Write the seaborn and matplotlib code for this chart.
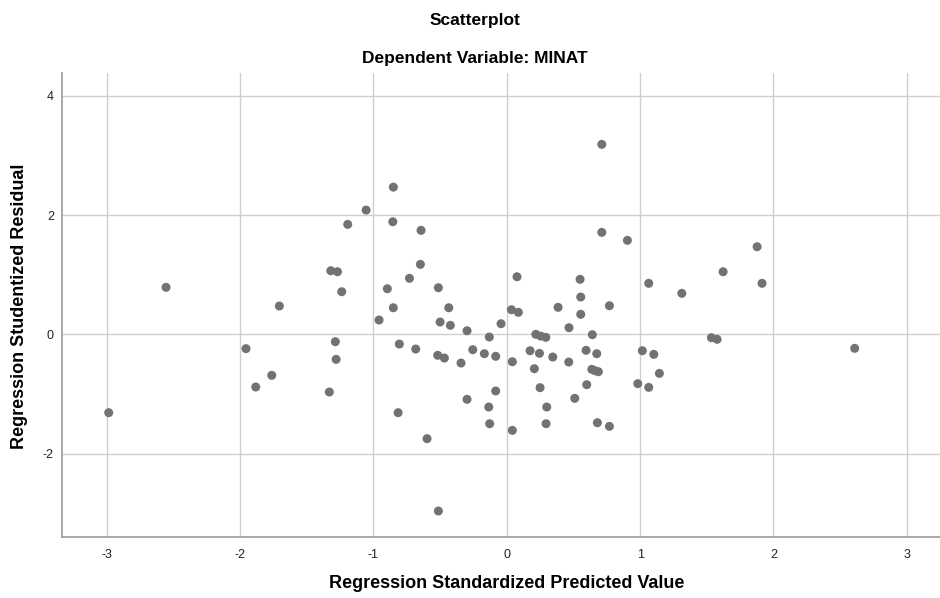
import numpy as np
import pandas as pd
import matplotlib
matplotlib.use("Agg")
import matplotlib.pyplot as plt
import seaborn as sns

# valeurs (prédites standardisées / résidus studentisés)
pred_std = [
    -2.986, -2.556, -1.956, -1.883, -1.763, -1.706, -1.331, -1.320, -1.286, -1.280,
    -1.270, -1.238, -1.193, -1.055, -0.958, -0.896, -0.855, -0.851, -0.851, -0.815,
    -0.806, -0.730, -0.683, -0.648, -0.643, -0.598, -0.518, -0.513, -0.513, -0.500,
    -0.468, -0.435, -0.423, -0.343, -0.298, -0.298, -0.255, -0.168, -0.135, -0.131,
    -0.128, -0.083, -0.083, -0.043, 0.035, 0.042, 0.042, 0.077, 0.087, 0.175,
    0.207, 0.218, 0.245, 0.250, 0.255, 0.293, 0.295, 0.300, 0.345, 0.385,
    0.465, 0.467, 0.510, 0.550, 0.555, 0.555, 0.595, 0.600, 0.638, 0.642,
    0.662, 0.675, 0.680, 0.687, 0.713, 0.713, 0.770, 0.770, 0.905, 0.983,
    1.017, 1.065, 1.065, 1.103, 1.145, 1.313, 1.535, 1.578, 1.623, 1.878,
    1.915, 2.610,
]
resid_stud = [
    -1.315, 0.789, -0.240, -0.884, -0.688, 0.475, -0.968, 1.067, -0.124, -0.420,
    1.050, 0.715, 1.845, 2.085, 0.240, 0.765, 1.889, 2.470, 0.446, -1.315,
    -0.163, 0.940, -0.247, 1.174, 1.745, -1.751, -0.352, 0.782, -2.965, 0.206,
    -0.398, 0.446, 0.151, -0.482, 0.060, -1.091, -0.258, -0.325, -1.220, -0.045,
    -1.500, -0.369, -0.951, 0.178, 0.413, -0.460, -1.611, 0.966, 0.369, -0.275,
    -0.577, 0.000, -0.319, -0.895, -0.030, -0.050, -1.500, -1.220, -0.381, 0.453,
    -0.465, 0.111, -1.074, 0.923, 0.626, 0.336, -0.268, -0.845, -0.587, -0.006,
    -0.611, -0.325, -1.483, -0.627, 1.711, 3.188, 0.480, -1.544, 1.577, -0.828,
    -0.275, 0.856, -0.890, -0.336, -0.655, 0.688, -0.057, -0.084, 1.050, 1.470,
    0.856, -0.235,
]
x_ticks = [-3, -2, -1, 0, 1, 2, 3]
y_ticks = [-2, 0, 2, 4]

df = pd.DataFrame({"pred": pred_std, "resid": resid_stud})

sns.set_style("white")
plt.rcParams["font.family"] = ["Liberation Sans", "DejaVu Sans"]
plt.rcParams["axes.unicode_minus"] = False

fig = plt.figure(figsize=(9.4, 5.98), dpi=100)
ax = fig.add_axes([0.0663, 0.1025, 0.9337, 0.7749])

sns.scatterplot(data=df, x="pred", y="resid", ax=ax, color="#727272",
                s=42, edgecolor="none", zorder=3)

ax.set_xlim(-3.334, 3.25)
ax.set_ylim(-3.396, 4.38)
ax.set_xticks(x_ticks)
ax.set_yticks(y_ticks)
ax.grid(True, color="#cfcfcf", linewidth=1.0)
ax.set_axisbelow(True)

for s in ["top", "right"]:
    ax.spines[s].set_visible(False)
for s in ["left", "bottom"]:
    ax.spines[s].set_color("#9a9a9a")
    ax.spines[s].set_linewidth(1.2)

ax.tick_params(axis="both", length=0, labelsize=9, colors="#222222")
ax.tick_params(axis="x", pad=9)
ax.tick_params(axis="y", pad=6)

ax.set_xlabel("")
ax.set_ylabel("")
fig.text(0.539, 1 - 583 / 598, "Regression Standardized Predicted Value",
         ha="center", va="center", fontsize=13, fontweight="bold", color="black")
fig.text(0.021, 1 - 306 / 598, "Regression Studentized Residual",
         ha="center", va="center", rotation=90, fontsize=13, fontweight="bold",
         color="black")

fig.text(0.505, 1 - 20 / 598, "Scatterplot", ha="center", va="center",
         fontsize=12.5, fontweight="bold", color="black")
fig.text(0.505, 1 - 58 / 598, "Dependent Variable: MINAT", ha="center",
         va="center", fontsize=12.5, fontweight="bold", color="black")

fig.savefig("out.png", dpi=100)
